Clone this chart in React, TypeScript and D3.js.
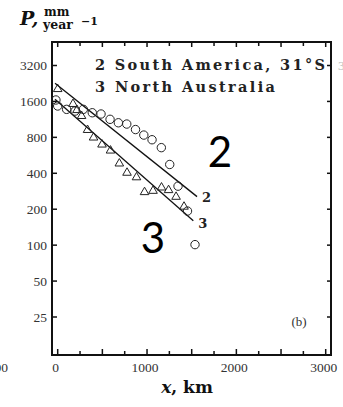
import React from "react";
import * as d3 from "d3";

const yTicks = [25, 50, 100, 200, 400, 800, 1600, 3200];
const xMajor = [0, 500, 1000, 1500, 2000, 2500, 3000];
const xMinor = [250, 750, 1250, 1750, 2250, 2750];
const xLabels = [0, 1000, 2000, 3000];

// Series 2: South America, 31°S (circles)
const saX = [-20, 0, 100, 194, 287, 387, 485, 586, 679, 773, 871, 964, 1056, 1160, 1254, 1347, 1453, 1537];
const saP = [1645, 1465, 1373, 1328, 1373, 1286, 1255, 1133, 1060, 1034, 930, 836, 764, 656, 474, 312, 193, 101];

// Series 3: North Australia (triangles)
const naX = [0, 171, 216, 267, 334, 401, 496, 591, 690, 776, 882, 972, 1067, 1162, 1241, 1325, 1414];
const naP = [2030, 1523, 1354, 1207, 922, 797, 696, 620, 483, 404, 370, 278, 285, 304, 289, 254, 210];

// Fitted lines
const line2X = [-30, 1560];
const line2P = [2270, 255];
const line3X = [-30, 1518];
const line3P = [1668, 160];

export default function App() {
  const W = 343, H = 407;
  const L = 52, R = 331, T = 42, B = 355;
  const x = d3.scaleLinear().domain([0, 3000]).range([57.7, 325.7]);
  const y = d3.scaleLog().base(2).domain([25, 3200]).range([317, 65.5]);
  const line = d3.line<[number, number]>().x(d => x(d[0])).y(d => y(d[1]));
  const l2 = line2X.map((v, i) => [v, line2P[i]] as [number, number]);
  const l3 = line3X.map((v, i) => [v, line3P[i]] as [number, number]);
  const tri = d3.symbol().type(d3.symbolTriangle).size(32);
  const serif = "'Liberation Serif', 'DejaVu Serif', serif";
  const wide = "'DejaVu Serif', 'Liberation Serif', serif";
  const ink = "#222";
  return (
    <svg width={W} height={H} style={{ position: "absolute", left: 0, top: 0, background: "#fff" }}>
      <rect x={0} y={0} width={W} height={H} fill="#fff" />
      {/* frame */}
      <rect x={L} y={T} width={R - L} height={B - T} fill="none" stroke="#111" strokeWidth={2} />
      {/* x ticks bottom & top */}
      {xMajor.map(v => (
        <g key={"xM" + v}>
          <line x1={x(v)} x2={x(v)} y1={B} y2={B - 6} stroke="#111" strokeWidth={1.5} />
          <line x1={x(v)} x2={x(v)} y1={T} y2={T + 5} stroke="#111" strokeWidth={1.5} />
        </g>
      ))}
      {xMinor.map(v => (
        <g key={"xm" + v}>
          <line x1={x(v)} x2={x(v)} y1={B} y2={B - 4} stroke="#111" strokeWidth={1.5} />
          <line x1={x(v)} x2={x(v)} y1={T} y2={T + 4} stroke="#111" strokeWidth={1.5} />
        </g>
      ))}
      {/* y ticks */}
      {yTicks.map(v => (
        <g key={"y" + v}>
          <line x1={L} x2={L + 5} y1={y(v)} y2={y(v)} stroke="#111" strokeWidth={1.5} />
          <line x1={R} x2={R - 4} y1={y(v)} y2={y(v)} stroke="#111" strokeWidth={1.5} />
          <text x={47} y={y(v) + 4.5} textAnchor="end" fontFamily={serif} fontSize={13.5} fill="#333">{v}</text>
        </g>
      ))}
      {xLabels.map(v => (
        <text key={"xl" + v} x={x(v) - 2} y={372} textAnchor="middle" fontFamily={serif} fontSize={13.5} fill="#333">{v}</text>
      ))}
      {/* neighbour panel fragments */}
      <text x={8} y={372} textAnchor="end" fontFamily={serif} fontSize={13.5} fill="#333">3000</text>
      <text x={338} y={70} textAnchor="start" fontFamily={serif} fontSize={13.5} fill="#bbb">3200</text>
      {/* lines */}
      <path d={line(l2) || ""} fill="none" stroke="#111" strokeWidth={1.3} />
      <path d={line(l3) || ""} fill="none" stroke="#111" strokeWidth={1.3} />
      <text x={x(line2X[1]) + 5} y={y(line2P[1]) + 5} fontFamily={wide} fontWeight="bold" fontSize={13} fill="#222">2</text>
      <text x={x(line3X[1]) + 5} y={y(line3P[1]) + 7} fontFamily={wide} fontWeight="bold" fontSize={13} fill="#222">3</text>
      {/* markers */}
      {saX.map((v, i) => (
        <circle key={"c" + i} cx={x(v)} cy={y(saP[i])} r={4.2} fill="none" stroke={ink} strokeWidth={1} />
      ))}
      {naX.map((v, i) => (
        <path key={"t" + i} d={tri() || ""} transform={`translate(${x(v)},${y(naP[i])})`} fill="none" stroke={ink} strokeWidth={1} />
      ))}
      {/* legend */}
      <text x={95} y={70} fontFamily={wide} fontWeight="bold" fontSize={14.5} fill="#222" textLength={230} lengthAdjust="spacing">2 South America, 31°S</text>
      <text x={95} y={92} fontFamily={wide} fontWeight="bold" fontSize={14.5} fill="#222" textLength={180} lengthAdjust="spacing">3 North Australia</text>
      {/* big annotations */}
      <text x={220} y={167} textAnchor="middle" fontFamily="Lato, 'Open Sans', sans-serif" fontSize={42} fill="#000">2</text>
      <text x={153} y={253} textAnchor="middle" fontFamily="Lato, 'Open Sans', sans-serif" fontSize={42} fill="#000">3</text>
      <text x={299} y={326} textAnchor="middle" fontFamily={serif} fontSize={13} fill="#333">(b)</text>
      {/* y label */}
      <text x={20} y={25} fontFamily={wide} fontWeight="bold" fontStyle="italic" fontSize={19} fill="#111">P,</text>
      <text x={44} y={16} fontFamily={wide} fontWeight="bold" fontSize={12} fill="#111">mm</text>
      <text x={43} y={29} fontFamily={wide} fontWeight="bold" fontSize={12.5} fill="#111">year</text>
      <text x={81} y={25} fontFamily={wide} fontWeight="bold" fontSize={11} fill="#111">−1</text>
      {/* x label */}
      <text x={187} y={393} textAnchor="middle" fontFamily={wide} fontWeight="bold" fontSize={17} fill="#111">
        <tspan fontStyle="italic">x</tspan>, km
      </text>
    </svg>
  );
}
